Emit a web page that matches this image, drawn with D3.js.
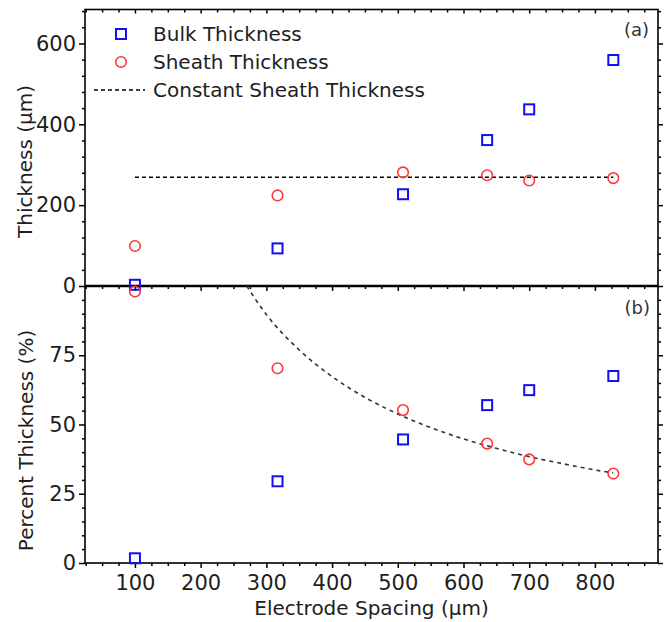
<!DOCTYPE html>
<html>
<head>
<meta charset="utf-8">
<script src="https://cdn.jsdelivr.net/npm/d3@7"></script>
<style>
  body { margin: 0; background: #fff; }
  svg { display: block; font-family: "DejaVu Sans", sans-serif; }
</style>
</head>
<body>
<svg id="chart"></svg>
<script>
const width = 664;
const height = 622;

// ----- DATA -----
const spacing = [100, 317, 508, 636, 700, 828];
const bulkThickness = [3, 93, 227, 361, 437, 559];
const sheathThickness = [99, 224, 281, 274, 261, 267];
const constantSheath = 269;
const constantRange = [100, 828];

const bulkPercent = [1.7, 29.5, 44.6, 57, 62.4, 67.5];
const sheathPercent = [98, 70.3, 55.2, 43.1, 37.4, 32.3];

// dashed fit curve in panel (b)
const curveSpacing = [270, 300, 350, 400, 450, 500, 550, 600, 650, 700, 750, 800, 828];
const curvePercent = [100, 89.7, 76.9, 67.3, 59.8, 53.8, 48.9, 44.8, 41.4, 38.4, 35.9, 33.6, 32.5];

const xMajor = [100, 200, 300, 400, 500, 600, 700, 800];
const topMajor = [0, 200, 400, 600];
const botMajor = [0, 25, 50, 75];

const legendItems = ["Bulk Thickness", "Sheath Thickness", "Constant Sheath Thickness"];

// ----- LAYOUT -----
const plotLeft = 85, plotRight = 658, plotTop = 9.5, plotMid = 286, plotBottom = 563;
const blue = "#1010f0";
const red = "#ff3838";
const ink = "#1e1e1e";

const svg = d3.select("#chart")
  .attr("width", width)
  .attr("height", height);

const x = d3.scaleLinear().domain([24, 896]).range([plotLeft, plotRight]);
const yTop = d3.scaleLinear().domain([0, 684]).range([plotMid, plotTop]);
const yBot = d3.scaleLinear().domain([0, 100]).range([plotBottom, plotMid]);

const xMinor = d3.range(25, 896, 25).filter(v => v % 100 !== 0);
const topMinor = d3.range(40, 684, 40).filter(v => v % 200 !== 0);
const botMinor = d3.range(5, 100, 5).filter(v => v % 25 !== 0);

// tick helper: no labels, no domain line
function tickRow(axisFn, scale, values, size, tx, ty) {
  svg.append("g")
    .attr("transform", `translate(${tx},${ty})`)
    .call(axisFn(scale).tickValues(values).tickSize(size).tickFormat(""))
    .call(g => g.select(".domain").remove())
    .call(g => g.selectAll("line").attr("stroke", "#000").attr("stroke-width", 1.5));
}

function styleLabels(g) {
  g.select(".domain").remove();
  g.selectAll("line").attr("stroke", "#000").attr("stroke-width", 1.5);
  g.selectAll("text")
    .attr("fill", ink)
    .style("font-size", "21px")
    .style("font-family", "DejaVu Sans, sans-serif");
}

// ----- TICKS -----
// top edge of panel (a) (inward)
tickRow(d3.axisBottom, x, xMajor, 4, 0, plotTop);
tickRow(d3.axisBottom, x, xMinor, 3, 0, plotTop);
// boundary between panels
tickRow(d3.axisBottom, x, xMajor, 5, 0, plotMid);
tickRow(d3.axisBottom, x, xMinor, 3, 0, plotMid);
// bottom axis
svg.append("g")
  .attr("transform", `translate(0,${plotBottom})`)
  .call(d3.axisBottom(x).tickValues(xMajor).tickSize(5).tickPadding(7))
  .call(styleLabels);
tickRow(d3.axisBottom, x, xMinor, 3, 0, plotBottom);

// left axes
svg.append("g")
  .attr("transform", `translate(${plotLeft},0)`)
  .call(d3.axisLeft(yTop).tickValues(topMajor).tickSize(6).tickPadding(3))
  .call(styleLabels);
tickRow(d3.axisLeft, yTop, topMinor, 3, plotLeft, 0);

svg.append("g")
  .attr("transform", `translate(${plotLeft},0)`)
  .call(d3.axisLeft(yBot).tickValues(botMajor).tickSize(6).tickPadding(3))
  .call(styleLabels);
tickRow(d3.axisLeft, yBot, botMinor, 3, plotLeft, 0);

// right axes (ticks only)
tickRow(d3.axisRight, yTop, topMajor, 5, plotRight, 0);
tickRow(d3.axisRight, yTop, topMinor, 3, plotRight, 0);
tickRow(d3.axisRight, yBot, botMajor, 5, plotRight, 0);
tickRow(d3.axisRight, yBot, botMinor, 3, plotRight, 0);

// ----- FRAMES -----
svg.append("rect")
  .attr("x", plotLeft).attr("y", plotTop)
  .attr("width", plotRight - plotLeft).attr("height", plotBottom - plotTop)
  .attr("fill", "none").attr("stroke", "#000").attr("stroke-width", 1.6);

svg.append("line")
  .attr("x1", plotLeft).attr("x2", plotRight)
  .attr("y1", plotMid).attr("y2", plotMid)
  .attr("stroke", "#000").attr("stroke-width", 2.6);

// ----- PANEL (a) -----
svg.append("line")
  .attr("x1", x(constantRange[0])).attr("x2", x(constantRange[1]))
  .attr("y1", yTop(constantSheath)).attr("y2", yTop(constantSheath))
  .attr("stroke", "#000").attr("stroke-width", 1.5)
  .attr("stroke-dasharray", "4 3");

function squares(xs, ys, yScale) {
  svg.append("g").selectAll("rect")
    .data(d3.zip(xs, ys))
    .join("rect")
    .attr("x", d => x(d[0]) - 5)
    .attr("y", d => yScale(d[1]) - 5)
    .attr("width", 10).attr("height", 10)
    .attr("fill", "none")
    .attr("stroke", blue)
    .attr("stroke-width", 2);
}

function circles(xs, ys, yScale) {
  svg.append("g").selectAll("circle")
    .data(d3.zip(xs, ys))
    .join("circle")
    .attr("cx", d => x(d[0]))
    .attr("cy", d => yScale(d[1]))
    .attr("r", 5.3)
    .attr("fill", "none")
    .attr("stroke", red)
    .attr("stroke-width", 1.6);
}

squares(spacing, bulkThickness, yTop);
circles(spacing, sheathThickness, yTop);

// ----- PANEL (b) -----
const curve = d3.line()
  .x(d => x(d[0]))
  .y(d => yBot(d[1]))
  .curve(d3.curveMonotoneX);

svg.append("path")
  .datum(d3.zip(curveSpacing, curvePercent))
  .attr("d", curve)
  .attr("fill", "none")
  .attr("stroke", "#333")
  .attr("stroke-width", 1.6)
  .attr("stroke-dasharray", "4 4");

squares(spacing, bulkPercent, yBot);
circles(spacing, sheathPercent, yBot);

// ----- LEGEND -----
const legend = svg.append("g");
const rowY = [34, 62, 90];

legend.append("rect")
  .attr("x", 116).attr("y", rowY[0] - 5)
  .attr("width", 10).attr("height", 10)
  .attr("fill", "none").attr("stroke", blue).attr("stroke-width", 2);
legend.append("circle")
  .attr("cx", 121).attr("cy", rowY[1]).attr("r", 5.3)
  .attr("fill", "none").attr("stroke", red).attr("stroke-width", 1.6);
legend.append("line")
  .attr("x1", 94).attr("x2", 145)
  .attr("y1", rowY[2]).attr("y2", rowY[2])
  .attr("stroke", "#000").attr("stroke-width", 1.5)
  .attr("stroke-dasharray", "4 3");

legend.selectAll("text")
  .data(legendItems)
  .join("text")
  .attr("x", 153)
  .attr("y", (d, i) => rowY[i] + 7)
  .attr("fill", ink)
  .style("font-size", "20px")
  .text(d => d);

// panel tags
svg.append("text")
  .attr("x", 649).attr("y", 36)
  .attr("text-anchor", "end")
  .attr("fill", "#333")
  .style("font-size", "18px")
  .text("(a)");
svg.append("text")
  .attr("x", 650).attr("y", 314)
  .attr("text-anchor", "end")
  .attr("fill", "#333")
  .style("font-size", "18px")
  .text("(b)");

// ----- AXIS TITLES -----
svg.append("text")
  .attr("transform", "translate(32,161.5) rotate(-90)")
  .attr("text-anchor", "middle")
  .attr("fill", ink)
  .style("font-size", "20px")
  .text("Thickness (µm)");

svg.append("text")
  .attr("transform", "translate(33,440.5) rotate(-90)")
  .attr("text-anchor", "middle")
  .attr("fill", ink)
  .style("font-size", "20px")
  .text("Percent Thickness (%)");

svg.append("text")
  .attr("x", (plotLeft + plotRight) / 2)
  .attr("y", 615)
  .attr("text-anchor", "middle")
  .attr("fill", ink)
  .style("font-size", "20px")
  .text("Electrode Spacing (µm)");
</script>
</body>
</html>
